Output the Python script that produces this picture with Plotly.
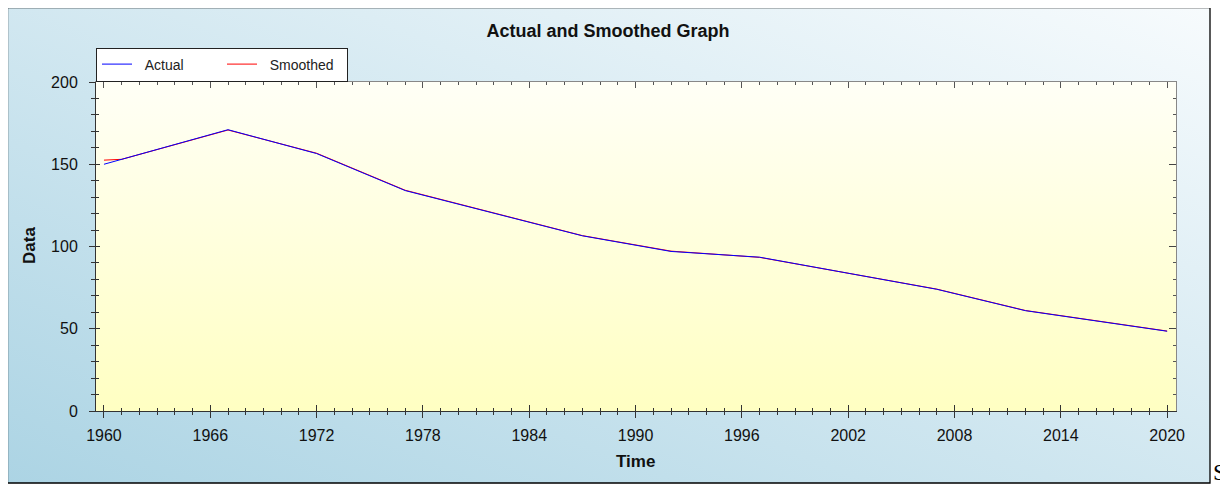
import base64
import plotly.graph_objects as go

# ---- data ----
actual_years = [1960, 1967, 1972, 1977, 1987, 1992, 1997, 2007, 2012, 2020]
actual_values = [150, 171, 156.5, 134, 106.5, 97, 93.5, 74, 61, 48.5]
smoothed_years = [1960, 1961, 1967, 1972, 1977, 1987, 1992, 1997, 2007, 2012, 2020]
smoothed_values = [152.5, 153, 170.8, 156.7, 134.2, 106.6, 97.2, 93.4, 74.1, 61.1, 48.6]

x_major_ticks = [1960, 1966, 1972, 1978, 1984, 1990, 1996, 2002, 2008, 2014, 2020]
y_major_ticks = [0, 50, 100, 150, 200]

VW, VH = 1228, 485          # browser viewport
OFF = 8                     # default body margin of the page
W, H = VW - OFF, VH - OFF   # figure size so it ends exactly at the viewport edge
L, R, T, B = 96, 1176, 82, 411   # plot area in viewport px
PW, PH = R - L, B - T


def px_x(px):
    return (px - L) / PW


def px_y(py):
    return (B - py) / PH


def grad_svg(x1, y1, x2, y2, c1, c2):
    svg = (
        "<svg xmlns='http://www.w3.org/2000/svg' width='100' height='100' "
        "preserveAspectRatio='none' viewBox='0 0 100 100'>"
        f"<defs><linearGradient id='g' x1='{x1}' y1='{y1}' x2='{x2}' y2='{y2}'>"
        f"<stop offset='0' stop-color='{c1}'/><stop offset='1' stop-color='{c2}'/>"
        "</linearGradient></defs><rect x='0' y='0' width='100' height='100' fill='url(#g)'/></svg>"
    )
    return "data:image/svg+xml;base64," + base64.b64encode(svg.encode()).decode()


xr = [1959.55, 2020.5]
yr = [0, 200]
font = "Liberation Sans, Arial, sans-serif"
PAD = "\u00a0\u00a0"

fig = go.Figure()
# empty helper traces so the overlaid tick-only axes are drawn
for xa, ya in (("x2", "y2"), ("x3", "y3")):
    fig.add_trace(go.Scatter(x=[None], y=[None], xaxis=xa, yaxis=ya, mode="lines",
                             showlegend=False, hoverinfo="skip"))
fig.add_trace(go.Scatter(x=smoothed_years, y=smoothed_values, mode="lines", name=PAD + "Smoothed",
                         line=dict(color="#ff0000", width=1), legendrank=2))
fig.add_trace(go.Scatter(x=actual_years, y=actual_values, mode="lines", name=PAD + "Actual",
                         line=dict(color="#0000ff", width=1), legendrank=1))

fig.update_layout(
    width=W, height=H,
    margin=dict(l=L - OFF, r=VW - R, t=T - OFF, b=VH - B, autoexpand=False),
    paper_bgcolor="white",
    plot_bgcolor="rgba(0,0,0,0)",
    font=dict(family=font, color="#111111"),
    title=dict(text="<b>Actual and Smoothed Graph</b>", x=(608 - OFF) / W, y=1 - (31 - OFF) / H,
               xanchor="center", yanchor="middle", font=dict(size=18, color="#111111")),
    showlegend=True,
    legend=dict(orientation="h", x=0, xanchor="left", y=px_y(64.5), yanchor="middle",
                bgcolor="white", bordercolor="#222222", borderwidth=1,
                font=dict(size=14, color="#222222"), entrywidth=80, itemwidth=30),
    xaxis=dict(range=xr, tickmode="array", tickvals=x_major_ticks,
               ticks="outside", ticklen=6, tickcolor="#333", tickwidth=1,
               minor=dict(dtick=1, tick0=1960, ticks="outside", ticklen=3, tickcolor="#333"),
               showline=True, linecolor="#333", linewidth=1, showgrid=False, zeroline=False,
               tickfont=dict(size=16, color="#111"), ticklabelstandoff=4),
    xaxis2=dict(range=xr, overlaying="x", anchor="y2", side="bottom", tickmode="array",
                tickvals=x_major_ticks, ticks="inside", ticklen=6, tickcolor="#333",
                minor=dict(dtick=1, tick0=1960, ticks="inside", ticklen=3, tickcolor="#333"),
                showticklabels=False, showline=False, showgrid=False, zeroline=False),
    xaxis3=dict(range=xr, overlaying="x", anchor="y3", side="top", tickmode="array",
                tickvals=x_major_ticks, ticks="inside", ticklen=6, tickcolor="#555",
                minor=dict(dtick=1, tick0=1960, ticks="inside", ticklen=3, tickcolor="#555"),
                showticklabels=False, showline=True, linecolor="#888", showgrid=False,
                zeroline=False),
    yaxis=dict(range=yr, tickmode="array", tickvals=y_major_ticks,
               ticks="outside", ticklen=6, tickcolor="#333",
               minor=dict(dtick=10, tick0=0, ticks="outside", ticklen=4, tickcolor="#333"),
               showline=True, linecolor="#333", linewidth=1, showgrid=False, zeroline=False,
               tickfont=dict(size=16, color="#111"), ticklabelstandoff=8),
    yaxis2=dict(range=yr, overlaying="y", anchor="x2", side="left", tickmode="array",
                tickvals=y_major_ticks, ticks="inside", ticklen=4, tickcolor="#333",
                minor=dict(dtick=10, tick0=0, ticks="inside", ticklen=3, tickcolor="#333"),
                showticklabels=False, showline=False, showgrid=False, zeroline=False),
    yaxis3=dict(range=yr, overlaying="y", anchor="x3", side="right", tickmode="array",
                tickvals=y_major_ticks, ticks="inside", ticklen=7, tickcolor="#444",
                minor=dict(dtick=10, tick0=0, ticks="inside", ticklen=3, tickcolor="#555"),
                showticklabels=False, showline=True, linecolor="#888", showgrid=False,
                zeroline=False),
    images=[
        dict(source=grad_svg(0, 1, 1, 0, "#acd4e4", "#f7fbfd"), xref="paper", yref="paper",
             x=px_x(7), y=px_y(7), sizex=px_x(1210) - px_x(7), sizey=px_y(7) - px_y(483),
             xanchor="left", yanchor="top", sizing="stretch", layer="below"),
        dict(source=grad_svg(0, 0, 0, 1, "#fffff6", "#ffffc2"), xref="paper", yref="paper",
             x=0, y=1, sizex=1, sizey=1, xanchor="left", yanchor="top",
             sizing="stretch", layer="below"),
    ],
    shapes=[
        dict(type="rect", xref="paper", yref="paper", x0=px_x(7.5), x1=px_x(1210),
             y0=px_y(483), y1=px_y(7.5), line=dict(color="#000", width=1.3),
             fillcolor="rgba(0,0,0,0)", layer="above"),
    ],
    annotations=[
        dict(text="<b>Time</b>", xref="paper", yref="paper", x=px_x(635), y=px_y(461),
             xanchor="center", yanchor="middle", showarrow=False,
             font=dict(size=17, color="#111")),
        dict(text="<b>Data</b>", xref="paper", yref="paper", x=px_x(29), y=px_y(246),
             xanchor="center", yanchor="middle", showarrow=False, textangle=-90,
             font=dict(size=17, color="#111")),
        dict(text="S", xref="paper", yref="paper", x=px_x(1211), y=px_y(472),
             xanchor="left", yanchor="middle", showarrow=False,
             font=dict(size=24, color="#000", family="Liberation Serif, Times New Roman, serif")),
    ],
)

fig.write_html("out.html")
